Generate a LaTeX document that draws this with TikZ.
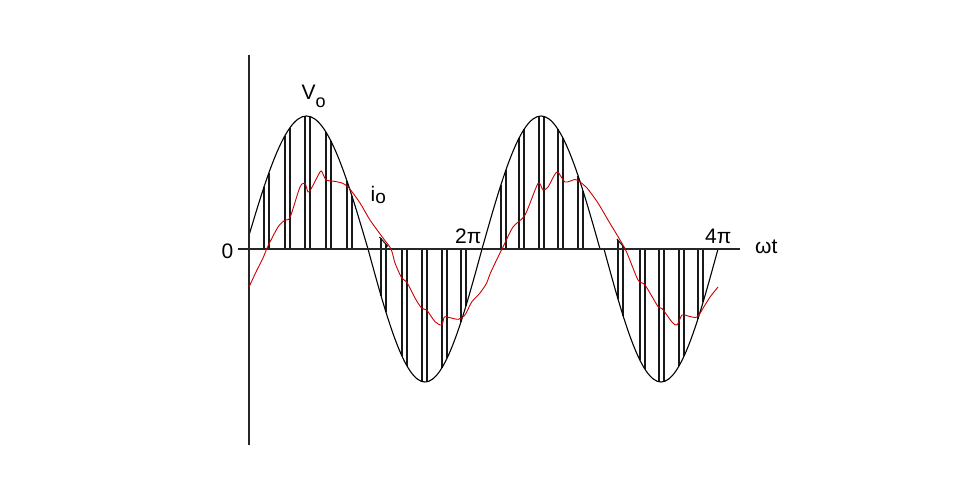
\documentclass[tikz,border=0pt]{standalone}
\usepackage{fontspec}
\setmainfont{Liberation Sans}
\begin{document}
\begin{tikzpicture}[x=1pt,y=-1pt,
  axisline/.style={line width=1.4pt, draw=black!85},
  wave/.style={line width=1.1pt, draw=black},
  pwmline/.style={line width=1.1pt, draw=black!90},
  current/.style={line width=0.9pt, draw=red!80!black, line join=round},
  lbl/.style={font=\fontsize{21}{21}\selectfont, inner sep=0pt, anchor=base west}]
\useasboundingbox (0,0) rectangle (960,500);
\fill[white] (0,0) rectangle (960,500);

% PWM pulses (from axis to the sine)
\foreach \px/\py in {
  264/187.0, 269/172.5, 285/135.6, 290/127.6, 305/116.1,
  310/116.5, 326/132.2, 331/141.2, 347/181.0, 352/196.2,
  402/356.1, 407/366.0, 422/381.5, 427/381.8,
  442/367.7, 447/358.3, 461/321.8, 466/305.8,
  501/184.5, 506/169.7, 519/138.2, 524/129.4, 539/116.2,
  544/116.4, 558/129.4, 563/138.2, 578/175.5, 583/190.8,
  640/360.3, 645/369.3, 659/381.8, 664/381.5,
  679/366.0, 684/356.1, 698/318.6, 703/302.4}
  \draw[pwmline] (\px,249) -- (\px,\py);
% first negative pulses with slanted cap
\foreach \px/\pt/\py in {381/238/295.6, 386/244/312.3, 618/240/299.0, 623/246/315.5}
  \draw[pwmline] (\px,\pt) -- (\px,\py);
\draw[pwmline] (379.5,237) -- (388,246.5);
\draw[pwmline] (617,239) -- (625,248.5);

% reference voltage (sine)
\begin{scope}
\clip (249,0) rectangle (960,500);
\draw[wave] (245,249) sin (306.5,116) cos (368,249) sin (425,382) cos (482,249)
  sin (541,116) cos (600,249) -- (604,249) sin (661,382) cos (718,249);
\end{scope}

% axes
\coordinate (ytop) at (249,55);
\coordinate (ybot) at (249,445);
\coordinate (xleft) at (238,249);
\coordinate (xright) at (740,249);
\draw[axisline] (ytop) -- (ybot);
\draw[axisline] (xleft) -- (xright);

% load current
\draw[current] plot[smooth, tension=0.45] coordinates {
 (249,287) (256,272) (263,258) (268,246) (278,227) (285,220) (290,217.5)
 (300,187) (305,183.5) (308,192) (311,189) (320,172) (322,172) (326,180)
 (332,181) (342,183) (349,188) (360,203) (370,220) (383,238) (391,249)
 (395,263) (401.7,278) (406.7,282) (415,298) (421.7,308.3) (426.7,310)
 (435,321.7) (441.7,325) (444.3,317) (448.3,317.3) (458.3,319.3) (465,315)
 (471.7,302) (480,293) (486.7,283) (490,274) (498,257) (503,247) (513,227)
 (525,215) (538,183.5) (543,190) (548,187) (557,172) (565,182) (575,179.5)
 (580,182) (587,188) (598,203) (608,220) (620,240) (627,253) (638,280)
 (645,285) (658,306.5) (662,308.5) (672,322) (677,325) (682,315) (688,316)
 (697,317) (705,305) (710,297) (718,287)};

% labels
\node[lbl] (zero) at (221.5,258) {0};
\node[lbl] (vo) at (301.5,100) {V\raisebox{-8pt}{\fontsize{18}{18}\selectfont o}};
\node[lbl] (io) at (370.5,201.5) {i\raisebox{-2pt}{\fontsize{19}{19}\selectfont o}};
\node[lbl] (twopi) at (455,243) {2π};
\node[lbl] (fourpi) at (705,243) {4π};
\node[lbl] (wt) at (755,253) {ωt};
\end{tikzpicture}
\end{document}
